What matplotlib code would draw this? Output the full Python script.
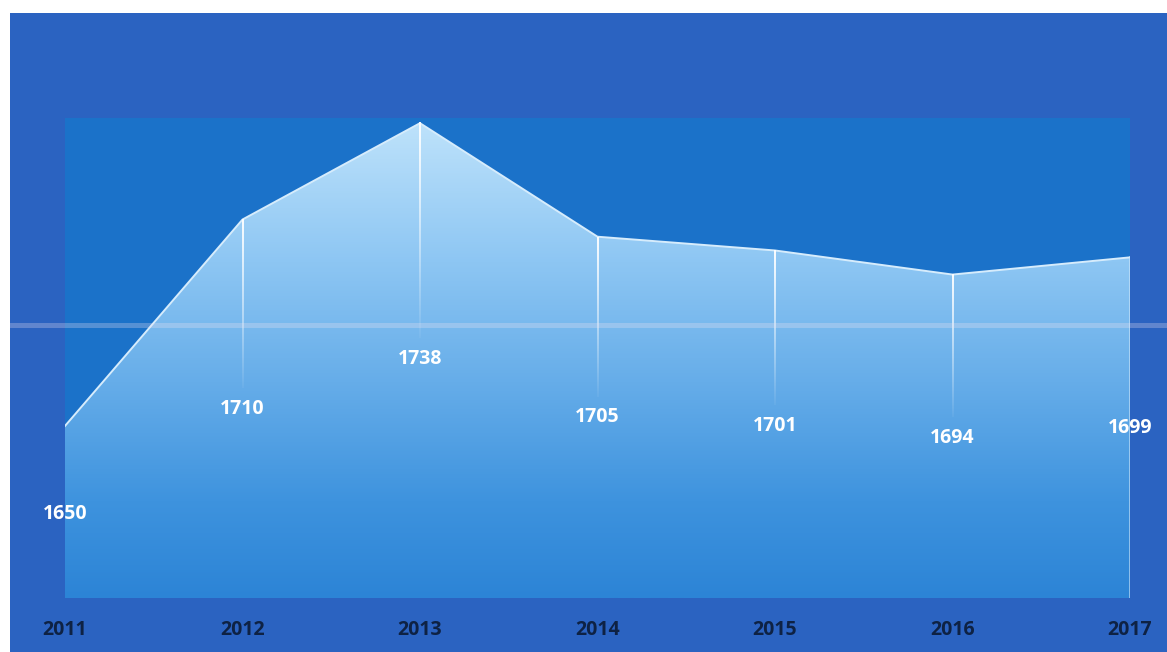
import numpy as np
import matplotlib
matplotlib.use("Agg")
import matplotlib.pyplot as plt
from matplotlib.colors import LinearSegmentedColormap
from matplotlib.patches import Rectangle

years = [2011, 2012, 2013, 2014, 2015, 2016, 2017]
values = [1650, 1710, 1738, 1705, 1701, 1694, 1699]
# where each value label sits (data units, below the point)
label_y = [1624.5, 1655, 1669.5, 1652.5, 1650, 1646.5, 1649.5]

W, H = 1167, 652
fig = plt.figure(figsize=(W / 100, H / 100), dpi=100)
fig.patch.set_facecolor("white")

# outer blue card
fig.add_artist(Rectangle((10 / W, 0), 1 - 10 / W, 1 - 13 / H,
                         transform=fig.transFigure, facecolor="#2b63c1",
                         edgecolor="none", zorder=0))

ax = fig.add_axes([65 / W, (H - 598) / H, (1130 - 65) / W, (598 - 118) / H])
ax.set_zorder(2)
ax.set_facecolor("#1b72c9")
ymin, ymax = 1600, 1739.5
ax.set_xlim(years[0], years[-1])
ax.set_ylim(ymin, ymax)
for s in ax.spines.values():
    s.set_visible(False)
ax.set_yticks([])

# gradient fill under the line
cmap = LinearSegmentedColormap.from_list(
    "area", [(0.0, "#2c84d6"), (0.2, "#3e93de"), (0.45, "#66ade9"),
             (0.7, "#8dc6f3"), (1.0, "#bfe3fb")])
grad = np.linspace(0, 1, 256).reshape(-1, 1)
img = ax.imshow(grad, cmap=cmap, origin="lower", aspect="auto",
                extent=[years[0], years[-1], ymin, ymax], zorder=1)
poly = ax.fill_between(years, values, ymin, facecolor="none", edgecolor="none")
clip = poly.get_paths()[0]
img.set_clip_path(clip, transform=ax.transData)
ax.plot(years, values, color="#d6ecfc", lw=1.4, zorder=3)

# fading drop lines from each point (white, alpha ramps down)
half_w = 1.0 / 177.5  # about one pixel either side
for x, v, ly in zip(years, values, label_y):
    if x in (years[0], years[-1]):
        continue
    y_end = ly + 6
    rgba = np.ones((128, 1, 4))
    rgba[:, 0, 3] = np.linspace(0.05, 0.95, 128)
    ax.imshow(rgba, origin="lower", aspect="auto", interpolation="bilinear",
              extent=[x - half_w, x + half_w, y_end, v], zorder=4)
ax.plot([years[-1]] * 2, [ymin, values[-1]], color="#cfe8fb", lw=1.2,
        alpha=0.7, zorder=4)
ax.set_xlim(years[0], years[-1])
ax.set_ylim(ymin, ymax)

for x, v, ly in zip(years, values, label_y):
    ax.text(x, ly, str(v), ha="center", va="center", color="white",
            fontsize=14, fontweight="bold", family="Open Sans",
            zorder=5, clip_on=False)

ax.set_xticks(years)
ax.set_xticklabels([str(y) for y in years])
ax.tick_params(axis="x", length=0, pad=16, labelsize=14, labelcolor="#0e2244")
for t in ax.get_xticklabels():
    t.set_fontweight("bold")
    t.set_family("Open Sans")

# faint light streak across the card
fig.add_artist(Rectangle((10 / W, (H - 328) / H), 1 - 10 / W, 5 / H,
                         transform=fig.transFigure, facecolor="#f0e4f2",
                         edgecolor="none", alpha=0.28, zorder=10))

fig.savefig("out.png", dpi=100, facecolor=fig.get_facecolor())
